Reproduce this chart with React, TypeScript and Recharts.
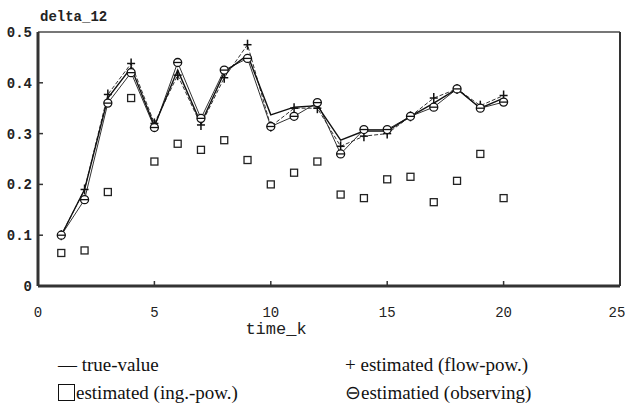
import { ComposedChart, Line, XAxis, YAxis, ReferenceLine, Label } from 'recharts';

const steps = [1, 2, 3, 4, 5, 6, 7, 8, 9, 10, 11, 12, 13, 14, 15, 16, 17, 18, 19, 20];
const trueValue = [0.10, 0.19, 0.37, 0.43, 0.315, 0.425, 0.32, 0.42, 0.455, 0.337, 0.352, 0.355, 0.287, 0.305, 0.305, 0.334, 0.36, 0.388, 0.35, 0.37];
const flowPow = [0.10, 0.19, 0.377, 0.438, 0.32, 0.415, 0.317, 0.41, 0.475, 0.314, 0.35, 0.35, 0.275, 0.295, 0.30, 0.334, 0.37, 0.388, 0.355, 0.375];
const ingPow = [0.065, 0.07, 0.185, 0.37, 0.245, 0.28, 0.268, 0.287, 0.248, 0.20, 0.223, 0.245, 0.18, 0.173, 0.21, 0.215, 0.165, 0.207, 0.26, 0.173];
const observing = [0.10, 0.17, 0.36, 0.42, 0.312, 0.44, 0.33, 0.425, 0.448, 0.314, 0.334, 0.361, 0.26, 0.308, 0.308, 0.334, 0.352, 0.388, 0.35, 0.362];

const xTicks = [0, 5, 10, 15, 20, 25];
const yTicks = [0, 0.1, 0.2, 0.3, 0.4, 0.5];

const data = steps.map((k, i) => ({
  k,
  trueValue: trueValue[i],
  flowPow: flowPow[i],
  ingPow: ingPow[i],
  observing: observing[i],
}));

const mono = '"Liberation Mono", "DejaVu Sans Mono", monospace';
const serif = '"Liberation Serif", "Times New Roman", serif';

// eslint-disable-next-line @typescript-eslint/no-explicit-any
function XTick({ x, y, payload }: any) {
  const inner = payload.value > 0 && payload.value < 25;
  return (
    <g>
      {inner && <line x1={x} x2={x} y1={y - 5} y2={y} stroke="#333" strokeWidth={1.5} />}
      <text x={x} y={y + 31} textAnchor="middle" fontFamily={mono} fontSize={14} fill="#222">
        {payload.value}
      </text>
    </g>
  );
}

// eslint-disable-next-line @typescript-eslint/no-explicit-any
function YTick({ x, y, payload }: any) {
  const inner = payload.value > 0 && payload.value < 0.5;
  return (
    <g>
      {inner && <line x1={x} x2={x + 5} y1={y} y2={y} stroke="#333" strokeWidth={1.5} />}
      <text x={x - 6} y={y + 5} textAnchor="end" fontFamily={mono} fontWeight="bold" fontSize={14} fill="#222">
        {payload.value === 0 ? '0' : payload.value.toFixed(1)}
      </text>
    </g>
  );
}

// eslint-disable-next-line @typescript-eslint/no-explicit-any
function SquareDot({ cx, cy }: any) {
  if (cx == null || cy == null) return null;
  return <rect x={cx - 3.5} y={cy - 3.5} width={7} height={7} fill="white" stroke="#222" strokeWidth={1.3} />;
}

// eslint-disable-next-line @typescript-eslint/no-explicit-any
function PlusDot({ cx, cy }: any) {
  if (cx == null || cy == null) return null;
  return (
    <g stroke="#111" strokeWidth={1.5}>
      <line x1={cx - 4} x2={cx + 4} y1={cy} y2={cy} />
      <line x1={cx} x2={cx} y1={cy - 5} y2={cy + 5} />
    </g>
  );
}

// eslint-disable-next-line @typescript-eslint/no-explicit-any
function ThetaDot({ cx, cy }: any) {
  if (cx == null || cy == null) return null;
  return (
    <g stroke="#111" strokeWidth={1.3}>
      <circle cx={cx} cy={cy} r={4} fill="white" />
      <line x1={cx - 4} x2={cx + 4} y1={cy} y2={cy} />
    </g>
  );
}

export default function App() {
  return (
    <div style={{ position: 'absolute', left: 0, top: 0, width: 625, height: 412, background: 'white' }}>
      <div style={{ position: 'absolute', left: 40, top: 9, fontFamily: mono, fontWeight: 'bold', fontSize: 14, color: '#222' }}>
        delta_12
      </div>
      <ComposedChart width={625} height={412} data={data} margin={{ top: 32, right: 5, left: 0, bottom: 96 }}>
        <XAxis
          dataKey="k"
          type="number"
          domain={[0, 25]}
          ticks={xTicks}
          height={30}
          tickSize={0}
          tickMargin={0}
          tick={<XTick />}
          axisLine={{ stroke: '#333', strokeWidth: 3 }}
          tickLine={false}
        >
          <Label value="time_k" position="bottom" offset={6} dx={-53} fontFamily={mono} fontSize={17} fill="#222" />
        </XAxis>
        <YAxis
          type="number"
          domain={[0, 0.5]}
          ticks={yTicks}
          width={38}
          tickSize={0}
          tickMargin={0}
          tick={<YTick />}
          axisLine={{ stroke: '#333', strokeWidth: 3 }}
          tickLine={false}
        />
        <ReferenceLine y={0.5} stroke="#777" strokeWidth={2} />
        <ReferenceLine x={25} stroke="#333" strokeWidth={2} />
        <Line dataKey="ingPow" stroke="none" dot={<SquareDot />} isAnimationActive={false} />
        <Line dataKey="flowPow" stroke="#333" strokeWidth={1} strokeDasharray="4 2" dot={<PlusDot />} isAnimationActive={false} />
        <Line dataKey="observing" stroke="#333" strokeWidth={1} dot={<ThetaDot />} isAnimationActive={false} />
        <Line dataKey="trueValue" stroke="#111" strokeWidth={1.4} dot={false} isAnimationActive={false} />
      </ComposedChart>
      <div style={{ position: 'absolute', left: 58, top: 351, fontFamily: serif, fontSize: 19, color: '#111', lineHeight: '28px' }}>
        <div>— true-value</div>
        <div>
          <span style={{ display: 'inline-block', width: 17, height: 17, border: '1.5px solid #111', boxSizing: 'border-box', verticalAlign: '-2px', marginRight: 1 }} />
          estimated (ing.-pow.)
        </div>
      </div>
      <div style={{ position: 'absolute', left: 345, top: 351, fontFamily: serif, fontSize: 19, color: '#111', lineHeight: '28px' }}>
        <div>+ estimated (flow-pow.)</div>
        <div>⊖estimatied (observing)</div>
      </div>
    </div>
  );
}
